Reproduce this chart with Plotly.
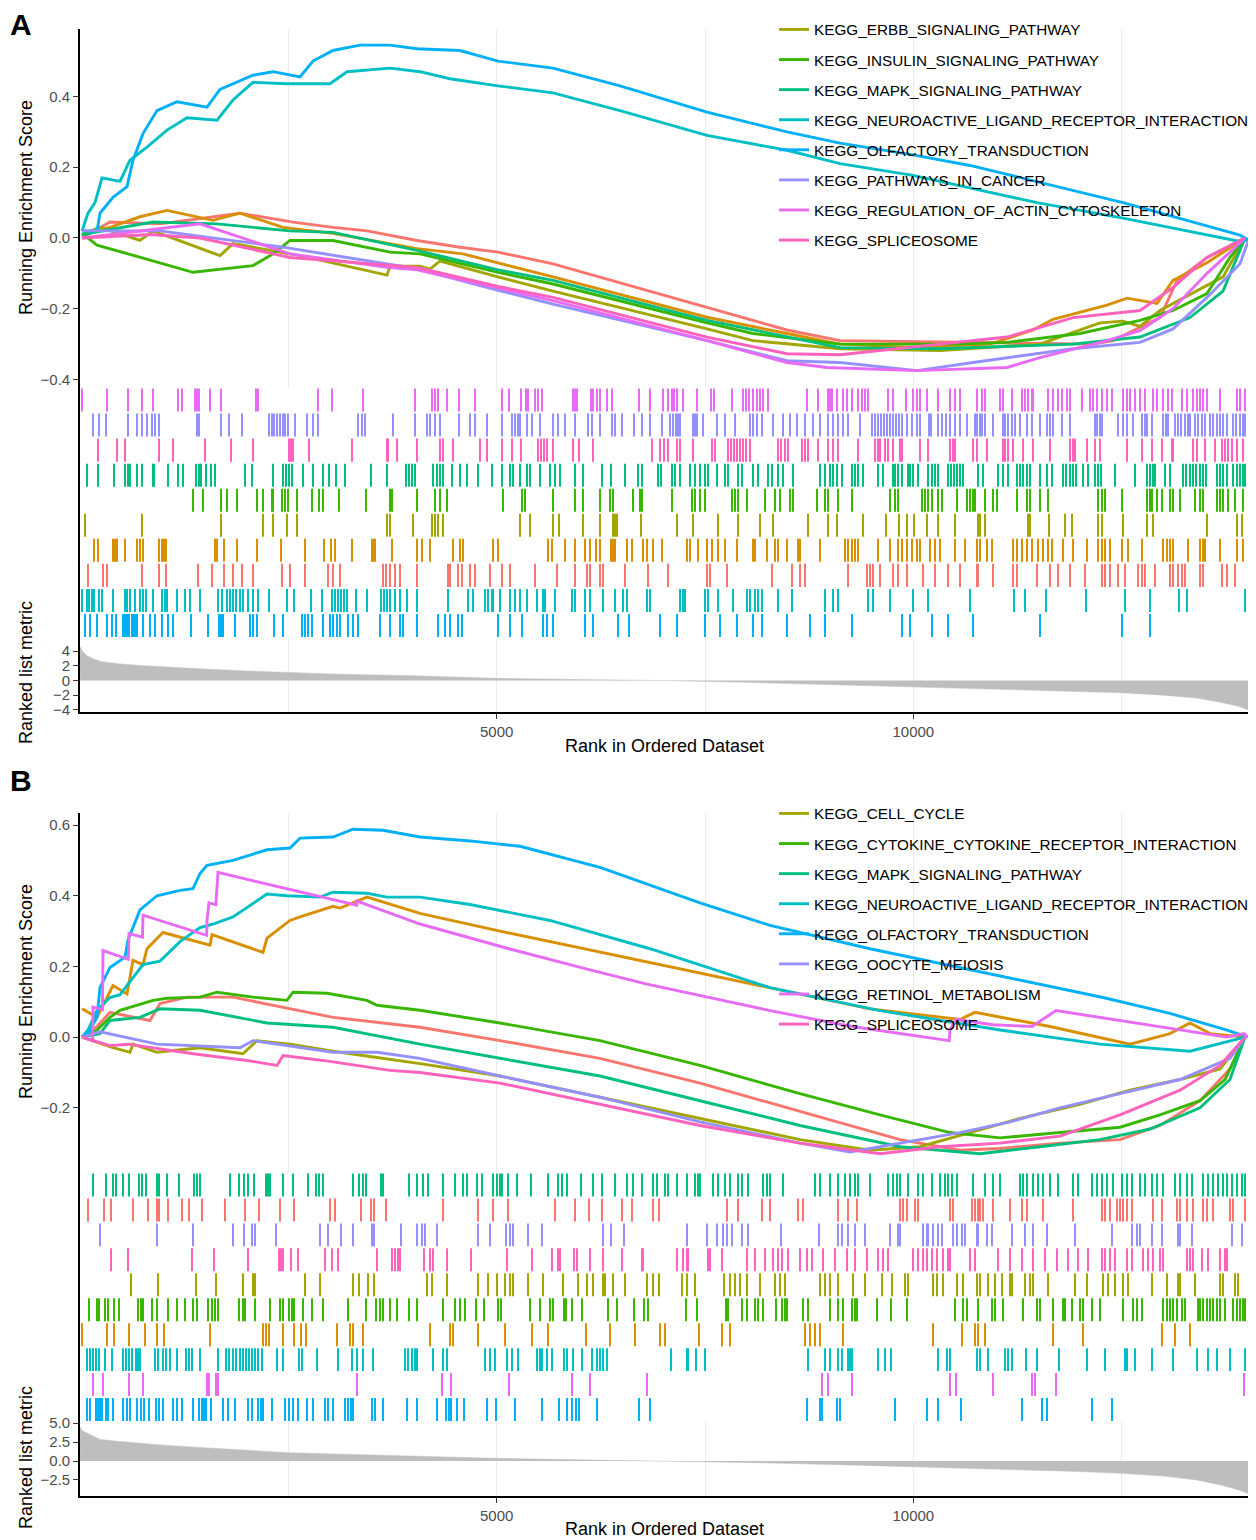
import plotly.graph_objects as go

RANK_MAX = 14016

C_SALMON = "#F8766D"; C_ORANGE = "#D89000"; C_OLIVE = "#A3A500"; C_GREEN = "#39B600"
C_MINT = "#00BF7D"; C_TEAL = "#00BFC4"; C_BLUE = "#00B0F6"; C_LAV = "#9590FF"
C_MAG = "#E76BF3"; C_PINK = "#FF62BC"

# ---------------- Panel A : running enrichment score ----------------
A_OLF_R = [24,204,240,396,564,636,756,924,1164,1524,1680,2076,2316,2640,2796,3036,3360,3720,4044,4560,5016,5676,6480,7524,8484,9120,9996,10680,12516,13920,14016]
A_OLF_ES = [0.02,0.02,0.07,0.115,0.145,0.22,0.295,0.36,0.385,0.37,0.42,0.46,0.47,0.455,0.50,0.53,0.545,0.545,0.535,0.53,0.50,0.48,0.43,0.356,0.30,0.268,0.235,0.205,0.10,0.008,-0.005]
A_NEURO_R = [24,96,180,264,480,600,804,1044,1284,1644,1836,2076,2484,3000,3204,3720,4080,4440,5016,5676,6480,7524,8484,9120,9996,11484,12516,13920,14016]
A_NEURO_ES = [0.02,0.07,0.10,0.17,0.16,0.22,0.257,0.305,0.34,0.333,0.39,0.44,0.436,0.436,0.47,0.48,0.47,0.45,0.43,0.41,0.36,0.29,0.248,0.21,0.177,0.10,0.056,-0.01,-0.005]
A_SET2_R = [24,360,720,1044,1596,1920,2436,3036,4044,4596,5676,7524,8484,9120,10044,10920,11436,11676,12324,12564,12924,13116,13524,13980]
A_SET2_ES = [0.01,0.03,0.06,0.078,0.05,0.07,0.03,0.013,-0.03,-0.045,-0.11,-0.224,-0.27,-0.30,-0.31,-0.30,-0.26,-0.23,-0.19,-0.17,-0.185,-0.12,-0.07,0.0]
A_SET1_R = [24,360,960,1920,2556,3036,3444,4044,4560,5016,5676,7524,8484,9120,10716,12156,12396,12960,13164,13524,13980]
A_SET1_ES = [0.0,0.045,0.04,0.07,0.045,0.03,0.02,-0.007,-0.026,-0.04,-0.073,-0.195,-0.26,-0.29,-0.295,-0.30,-0.29,-0.225,-0.12,-0.055,0.0]
A_ERBB_R = [24,240,720,876,1680,1836,2640,3684,3720,4080,4200,4320,5016,5676,7524,8076,9120,10320,11520,12240,12516,12720,12960,13716,13980]
A_ERBB_ES = [0.01,0.03,-0.007,0.02,-0.05,-0.016,-0.05,-0.105,-0.08,-0.08,-0.088,-0.065,-0.11,-0.15,-0.257,-0.29,-0.313,-0.318,-0.30,-0.24,-0.235,-0.25,-0.205,-0.11,0.0]
A_INS_R = [24,204,1356,2076,2316,2520,3036,3720,4080,5016,5676,7524,8076,9120,10524,11124,12000,12720,13116,13524,13800,13980]
A_INS_ES = [0.013,-0.02,-0.097,-0.078,-0.045,-0.007,-0.007,-0.04,-0.045,-0.097,-0.13,-0.24,-0.27,-0.30,-0.30,-0.295,-0.27,-0.233,-0.205,-0.157,-0.055,0.0]
A_MAPK_R = [24,876,1644,2520,3036,4044,5016,5676,7524,9120,10320,11916,12720,13320,13716,13980]
A_MAPK_ES = [0.01,0.045,0.04,0.02,0.016,-0.035,-0.09,-0.12,-0.233,-0.31,-0.313,-0.30,-0.28,-0.225,-0.15,0.0]
A_PATH_R = [24,960,2436,4044,5016,5676,7524,8484,9120,10044,10716,11916,12720,13116,13524,13920,14016]
A_PATH_ES = [0.02,0.02,-0.026,-0.087,-0.148,-0.187,-0.29,-0.347,-0.352,-0.375,-0.352,-0.313,-0.295,-0.257,-0.168,-0.073,-0.01]
A_ACTIN_R = [24,720,1440,2520,3684,4044,5016,5676,7524,8484,8964,10044,11124,11520,12324,12720,13116,13524,13800,13980]
A_ACTIN_ES = [0.0,0.02,0.04,-0.045,-0.083,-0.09,-0.143,-0.177,-0.29,-0.352,-0.366,-0.375,-0.366,-0.338,-0.29,-0.262,-0.2,-0.1,-0.04,0.0]
A_SPLICE_R = [24,840,1440,2520,4044,5016,5676,7524,8484,9120,10320,11124,11916,12720,13116,13524,13980]
A_SPLICE_ES = [0.0,0.01,0.0,-0.055,-0.083,-0.137,-0.168,-0.28,-0.327,-0.33,-0.30,-0.28,-0.225,-0.205,-0.14,-0.055,0.0]

# ---------------- Panel A : hit positions ----------------
A_ACTIN_HITS = [24,324,576,744,876,1176,1224,1380,1404,1428,1560,1692,2112,2136,2856,3024,3396,4020,4224,4260,4296,4404,4548,4740,5064,5148,5292,5352,5376,5460,5496,5544,5916,5940,5964,6132,6156,6204,6240,6324,6384,6708,6840,6996,7056,7104,7128,7164,7236,7404,7572,7608,7824,7956,7992,8028,8076,8124,8160,8196,8256,8724,8856,8976,9000,9024,9084,9156,9204,9264,9336,9384,9420,9456,9696,9756,9912,9996,10044,10080,10164,10296,10440,10500,10560,10764,10824,10860,11040,11076,11184,11304,11340,11376,11424,11436,11616,11676,11736,11784,11844,11880,12024,12120,12156,12204,12264,12324,12384,12516,12564,12600,12660,12720,12780,12876,12924,12996,13056,13104,13224,13284,13356,13404,13440,13476,13524,13680,13884,13920,13980]
A_PATH_HITS = [156,228,312,576,684,744,804,864,900,948,1404,1428,1692,1788,1944,2268,2304,2328,2364,2400,2436,2460,2496,2580,2724,2796,2856,3336,3384,3420,3756,4020,4164,4200,4260,4320,4548,4680,4740,4884,5064,5184,5220,5256,5280,5364,5424,5520,5676,5736,5820,5940,6096,6144,6240,6384,6420,6504,6648,6744,6840,6984,7080,7116,7152,7176,7200,7356,7380,7404,7476,7644,7740,7860,8040,8076,8124,8184,8316,8436,8520,8604,8700,8796,8880,8976,9036,9096,9156,9216,9360,9504,9540,9576,9612,9648,9684,9720,9756,9792,9828,9864,9924,9984,10044,10080,10188,10212,10296,10344,10392,10440,10500,10560,10644,10740,10764,10800,10824,10860,10956,11076,11100,11136,11184,11220,11280,11364,11424,11520,11604,11640,11676,11784,11880,12180,12204,12240,12264,12456,12516,12564,12636,12744,12780,12804,12864,12996,13032,13056,13140,13176,13212,13260,13296,13320,13380,13416,13464,13500,13560,13596,13644,13680,13716,13764,13836,13872,13920,13956,13980]
A_SPLICE_HITS = [216,444,540,948,1116,1500,1812,2076,2508,2532,2556,2748,3264,3684,3696,3804,4044,4320,4356,4476,4800,4884,5064,5184,5292,5496,5532,5568,5604,5676,5916,5988,6156,6864,6960,7008,7056,7164,7200,7356,7584,7620,7776,7812,7848,7884,7920,7956,7992,8040,8376,8412,8460,8496,8664,8700,8736,8856,8976,9036,9096,9336,9540,9576,9600,9660,9696,9756,9840,9864,10080,10176,10440,10476,10500,10716,10764,10884,11076,11100,11136,11196,11316,11436,11640,11880,11916,11940,12084,12180,12240,12564,12744,12864,12984,13104,13116,13356,13404,13500,13620,13704,13740,13776,13824,13884,13956]
A_MAPK_HITS = [84,216,408,540,576,600,684,744,876,888,1056,1176,1236,1392,1428,1452,1512,1572,1620,1980,2064,2316,2436,2472,2508,2544,2676,2796,2916,2988,3072,3180,3492,3684,3912,3948,3984,4020,4236,4284,4320,4356,4464,4560,4644,4776,4944,5064,5160,5196,5280,5364,5400,5520,5640,5700,5760,5940,6036,6264,6372,6540,6696,6744,6936,6972,7104,7140,7200,7320,7380,7440,7500,7536,7644,7740,7776,7896,7944,8076,8136,8256,8304,8376,8436,8556,8880,8940,9000,9036,9084,9144,9264,9300,9336,9396,9576,9636,9756,9780,9816,9864,9936,9960,9996,10056,10176,10224,10260,10296,10416,10452,10488,10524,10560,10596,10776,10836,11016,11076,11136,11244,11280,11316,11364,11400,11520,11604,11664,11796,11832,11880,11916,11952,12036,12096,12180,12216,12252,12420,12660,12804,12840,12876,12900,13020,13080,13236,13272,13320,13356,13392,13440,13476,13512,13644,13680,13716,13764,13836,13884,13920,13956,13980]
A_INS_HITS = [1356,1476,1692,1764,1884,2124,2196,2304,2316,2424,2460,2496,2604,2784,2868,2916,3108,3432,3720,3744,4044,4260,4320,4404,5076,5304,5340,5676,5940,6036,6240,6360,6396,6636,6720,6744,7104,7344,7380,7440,7500,7824,7860,7896,8004,8220,8340,8400,8520,8556,8844,8940,8976,9096,9264,9720,9780,9816,10104,10140,10176,10224,10296,10344,10524,10644,10680,10716,10740,10860,10956,11004,11244,11364,11400,11520,11616,12216,12264,12300,12504,12804,12840,12864,12924,12984,13080,13116,13200,13380,13440,13476,13644,13680,13716,13776,13860,13956]
A_ERBB_HITS = [60,744,1692,2196,2316,2484,2604,3684,3720,3996,4224,4260,4296,4356,5280,5400,5676,5748,6036,6240,6396,6420,6444,6732,7164,7356,7656,7896,8160,8316,8736,8976,9084,9396,9672,9828,9924,10008,10164,10296,10500,10776,10800,10860,11376,11400,11628,11820,11904,12216,12264,12516,12804,12876,13524,13884,13944]
A_SET2_HITS = [168,216,396,420,444,540,684,720,756,948,984,1008,1032,1620,1644,1728,1884,2124,2412,2700,2928,3012,3060,3264,3504,3528,3540,3744,4044,4104,4200,4476,4560,4596,4956,5016,5616,5664,5820,5940,6060,6120,6192,6240,6372,6396,6420,6564,6624,6756,6804,6876,6984,7284,7320,7416,7524,7584,7656,7740,7884,8076,8100,8244,8340,8376,8484,8616,8640,8880,9180,9216,9264,9300,9336,9576,9720,9816,9864,9924,9984,10044,10080,10200,10260,10320,10500,10620,10764,10800,10884,10944,11196,11244,11304,11364,11424,11496,11556,11616,11664,11796,11916,12084,12216,12264,12300,12360,12504,12576,12744,12996,13044,13080,13116,13296,13440,13476,13500,13680,13884,13956]
A_SET1_HITS = [96,276,324,744,948,1032,1416,1584,1728,1836,1944,2076,2424,2520,2700,2976,3036,3120,3636,3672,3720,3780,3840,4044,4416,4440,4536,4584,4680,4740,4920,5064,5160,5460,5724,5940,6084,6120,6240,6276,6540,6816,7056,7524,7560,7764,8304,8544,8640,8700,9216,9444,9480,9516,9600,9756,9816,9924,10116,10260,10416,10560,10764,10776,10956,11196,11244,11484,11640,11736,11880,12060,12264,12300,12360,12456,12540,12696,12744,12780,12900,13080,13116,13176,13224,13260,13440,13476,13704,13764,13860]
A_NEURO_HITS = [24,84,108,144,168,228,264,396,540,564,600,660,720,756,792,876,984,1020,1044,1164,1260,1320,1440,1656,1704,1764,1800,1836,1872,1920,1956,2016,2076,2136,2268,2484,2568,2772,2904,3024,3060,3096,3132,3168,3204,3312,3444,3612,3648,3684,3720,3780,3840,3924,4044,4416,4656,4716,4860,4896,4944,4956,5040,5160,5220,5280,5364,5484,5556,5580,5700,5904,5940,6060,6120,6276,6420,6516,6564,6804,6840,7200,7236,7260,7500,7536,7656,7836,8004,8040,8100,8136,8184,8376,8544,8940,9036,9096,9456,9516,9720,9996,10176,10680,11208,11340,11592,12072,12540,12840,13188,13284,13980]
A_OLF_HITS = [60,120,204,324,384,432,516,540,564,588,624,636,660,684,756,840,900,984,1056,1116,1332,1536,1668,1692,1716,1860,2040,2076,2124,2328,2436,2664,2700,2736,2784,2916,3000,3036,3084,3120,3216,3276,3336,3600,3720,3840,3876,4044,4296,4380,4440,4536,4584,5016,5160,5304,5556,5604,5676,6060,6156,6456,6588,6960,7164,7500,7680,7884,8076,8184,8484,8760,8940,9264,9864,9960,10224,10416,10716,11520,12504,12840]

# ---------------- Panel B : running enrichment score ----------------
B_OLF_R = [24,96,204,240,360,540,576,720,924,1200,1356,1440,1524,1836,2244,2520,2640,3036,3276,3636,4080,4680,5280,6240,7440,8280,9480,11280,12276,13080,13764,14016]
B_OLF_ES = [0.0,0.01,0.056,0.14,0.197,0.226,0.275,0.36,0.40,0.415,0.42,0.463,0.486,0.50,0.53,0.535,0.563,0.566,0.588,0.585,0.566,0.555,0.54,0.48,0.38,0.316,0.25,0.16,0.112,0.067,0.02,0.0]
B_NEURO_R = [24,96,204,360,480,636,756,960,1200,1440,1596,1836,2076,2244,2484,2880,3036,3444,3684,4080,4680,5640,6840,8280,9600,11040,12240,13320,13980]
B_NEURO_ES = [0.0,0.02,0.076,0.112,0.12,0.167,0.205,0.215,0.27,0.31,0.32,0.34,0.377,0.405,0.40,0.396,0.41,0.407,0.396,0.396,0.375,0.33,0.25,0.14,0.075,0.02,-0.02,-0.04,0.0]
B_SET2_R = [24,204,396,564,636,756,804,996,1560,1584,2196,2244,2520,2640,3036,3120,3444,4080,5040,6240,7440,8280,9480,10560,10740,11640,12600,13080,13320,13560,13980]
B_SET2_ES = [0.08,0.056,0.146,0.122,0.217,0.205,0.25,0.296,0.26,0.29,0.24,0.28,0.33,0.34,0.37,0.365,0.396,0.35,0.30,0.24,0.18,0.14,0.08,0.05,0.07,0.03,-0.02,0.01,0.04,0.01,0.0]
B_RET_R = [24,150,156,270,276,580,588,750,756,1520,1524,1548,1630,1656,3320,3324,4080,5148,6120,6804,8280,9264,10430,10440,10512,10956,11424,11712,13760,13968,14016]
B_RET_ES = [0.0,-0.01,0.085,0.078,0.245,0.22,0.293,0.283,0.345,0.288,0.33,0.38,0.375,0.466,0.373,0.385,0.32,0.25,0.19,0.15,0.075,0.03,-0.01,0.02,0.05,0.035,0.03,0.075,0.0,0.01,0.0]
B_CYTO_R = [24,204,360,480,876,1044,1440,1644,2076,2484,2556,2964,3444,3564,4080,5040,6240,7440,8640,9600,10440,11040,11760,12480,12960,13440,13740,13980]
B_CYTO_ES = [0.0,0.02,0.056,0.076,0.104,0.11,0.113,0.127,0.113,0.104,0.127,0.124,0.104,0.09,0.076,0.04,-0.01,-0.08,-0.16,-0.22,-0.27,-0.285,-0.27,-0.255,-0.22,-0.18,-0.12,0.0]
B_SET1_R = [24,204,360,840,960,1284,1836,3036,4080,5040,6240,7440,8640,9840,10560,11040,11760,12480,12960,13440,13800,13980]
B_SET1_ES = [0.0,0.03,0.07,0.047,0.095,0.113,0.113,0.056,0.028,-0.01,-0.06,-0.13,-0.21,-0.29,-0.32,-0.315,-0.30,-0.29,-0.25,-0.18,-0.09,0.0]
B_MAPK_R = [24,240,360,720,960,1440,2244,3036,4080,5040,6240,7440,8640,9840,10800,11520,12240,12840,13440,13800,13980]
B_MAPK_ES = [0.0,0.01,0.047,0.056,0.08,0.076,0.04,0.028,-0.02,-0.06,-0.11,-0.18,-0.25,-0.31,-0.33,-0.31,-0.29,-0.26,-0.2,-0.12,0.0]
B_CELL_R = [24,396,600,636,924,1440,1956,2124,2520,3036,4080,5040,6240,7440,8640,9480,10080,10680,11280,12000,12600,13200,13680,13980]
B_CELL_ES = [0.0,-0.03,-0.043,-0.02,-0.043,-0.03,-0.047,-0.01,-0.02,-0.04,-0.075,-0.11,-0.17,-0.23,-0.29,-0.32,-0.31,-0.27,-0.23,-0.19,-0.15,-0.12,-0.09,0.0]
B_OOC_R = [24,240,924,1356,1920,2076,3036,3564,4080,5040,6240,7440,8640,9240,9840,10560,11160,11760,12480,13200,13800,13980]
B_OOC_ES = [0.0,0.015,-0.02,-0.024,-0.03,-0.01,-0.043,-0.043,-0.06,-0.11,-0.17,-0.24,-0.30,-0.325,-0.30,-0.27,-0.24,-0.2,-0.16,-0.12,-0.06,0.0]
B_SPLICE_R = [24,360,576,1356,2004,2364,2436,2916,3720,4080,5040,6240,7440,8640,9600,10320,11040,11760,12480,13200,13680,13980]
B_SPLICE_ES = [0.0,-0.024,-0.02,-0.047,-0.066,-0.08,-0.052,-0.066,-0.094,-0.1,-0.13,-0.19,-0.25,-0.30,-0.33,-0.31,-0.30,-0.28,-0.22,-0.15,-0.08,0.0]

# ---------------- Panel B : hit positions ----------------
B_MAPK_HITS = [156,312,396,432,516,588,708,744,792,924,948,1044,1188,1368,1404,1440,1800,1908,1968,2016,2088,2232,2256,2280,2436,2556,2736,2832,2868,2916,3276,3348,3396,3432,3612,3636,3948,4044,4116,4176,4356,4500,4596,4644,4764,4824,4956,5004,5040,5064,5136,5244,5412,5616,5736,5784,5844,6012,6156,6264,6420,6564,6636,6744,6876,6924,7020,7056,7164,7284,7380,7416,7440,7596,7656,7740,7800,7896,7944,8016,8196,8244,8280,8436,8820,8880,9000,9096,9180,9240,9300,9336,9480,9696,9756,9804,9840,9936,10056,10116,10224,10320,10380,10416,10464,10524,10716,10860,10956,11040,11280,11316,11364,11436,11496,11556,11640,11736,11916,11976,12144,12204,12264,12324,12396,12504,12564,12624,12720,12780,12864,12924,12996,13140,13200,13284,13344,13476,13536,13596,13656,13716,13764,13824,13884,13944,13980]
B_SET1_HITS = [96,288,372,636,816,924,948,1056,1224,1308,1464,1740,1980,2148,2400,2568,3000,3060,3372,3492,3528,3672,4356,4776,4956,5136,5700,5940,6108,6264,6504,6624,6876,6948,7764,7896,8184,8280,8616,8676,9096,9216,9324,9840,9876,9924,10020,10056,10440,10476,10704,10740,10776,10800,10836,10956,11160,11304,11364,11556,11916,12264,12300,12360,12444,12480,12516,12564,12624,12876,12984,13164,13200,13284,13356,13476,13524,13596,13800,13836,13980]
B_OOC_HITS = [240,924,1356,1836,1968,2064,2100,2352,2880,2976,3132,3276,3504,3528,3852,4044,4104,4140,4284,4776,4920,5112,5160,5196,5376,5544,6276,6372,6528,7284,7524,7644,7716,7764,7824,7944,8016,8412,8868,9096,9144,9216,9300,9420,9720,9816,9840,10116,10164,10176,10236,10296,10344,10476,10524,10584,10620,10764,10776,10884,10944,11184,11340,11436,11604,11940,12384,12624,12684,12720,12864,12984,13176,13200,13344,13824,13944]
B_SPLICE_HITS = [372,576,1344,1608,2016,2388,2412,2436,2532,2616,2940,3024,3096,3564,3744,3780,3816,3840,4128,4200,4236,4404,4692,5124,5424,5664,5736,5760,5928,5964,6120,6276,6504,6744,6756,7164,7236,7284,7296,7536,7560,7704,8004,8100,8220,8316,8376,8424,8496,8640,8724,8784,8916,9060,9204,9300,9444,9576,9636,9696,9996,10056,10116,10164,10224,10284,10356,10416,10440,10680,10740,11016,11160,11304,11436,11580,11724,11856,11976,12096,12264,12300,12360,12420,12564,12624,12756,12816,12876,12960,12996,13284,13320,13356,13464,13536,13680,13740,13764]
B_CELL_HITS = [612,936,1392,1632,1956,2076,2100,2700,2880,3276,3348,3456,3528,4164,4224,4404,4776,4896,5004,5100,5160,5196,5376,5556,5796,5976,6084,6156,6276,6300,6396,6540,6804,6876,6948,7224,7284,7380,7728,7800,7860,7920,8004,8160,8340,8400,8460,8880,8940,9000,9096,9276,9420,9624,9744,9900,9936,10236,10284,10356,10524,10596,10764,10800,10896,10980,11064,11160,11184,11340,11400,11436,11616,11940,12084,12276,12336,12420,12516,12576,12864,13044,13176,13200,13380,13680,13716,13860,13896]
B_CYTO_HITS = [108,204,228,300,336,408,468,696,732,756,864,924,1056,1164,1260,1356,1404,1536,1584,1620,1656,1908,1956,1980,2100,2280,2400,2436,2508,2544,2568,2676,2784,2916,3216,3432,3552,3600,3636,3720,3804,3948,4044,4356,4500,4560,4620,4752,4848,5016,5052,5400,5520,5640,5676,5808,5832,5904,6024,6336,6444,6648,6768,6816,7272,7404,7752,7776,7944,8004,8100,8136,8196,8352,8424,8460,8484,8676,8736,9000,9096,9156,9264,9300,9324,9564,9732,9924,10500,10596,10644,10776,10944,10980,11076,11316,11484,11520,11676,11796,11820,11904,12000,12036,12144,12240,12516,12636,12684,12744,12996,13044,13080,13116,13164,13224,13260,13416,13440,13476,13524,13560,13596,13644,13680,13740,13836,13884,13920,13956,13980]
B_SET2_HITS = [24,324,408,588,780,924,1008,1560,2196,2232,2268,2436,2568,2652,2712,3084,3240,3276,3396,4200,4440,4476,4776,5100,5424,5616,6072,6360,6660,6960,7020,7428,7704,7800,8700,8760,8820,8880,9156,10236,10584,10740,10776,10860,11676,12036,12984,13140,13320]
B_NEURO_HITS = [84,120,156,192,228,300,384,516,552,588,624,672,696,720,900,936,996,1032,1080,1164,1272,1308,1344,1440,1656,1752,1788,1836,1872,1920,1956,1992,2028,2064,2100,2136,2184,2364,2436,2628,2664,2844,3096,3264,3324,3396,3516,3900,3936,3984,4020,4044,4236,4356,4404,4860,4920,4980,5124,5184,5256,5484,5520,5544,5604,5664,5808,5844,5916,6024,6144,6204,6240,6276,6324,7092,7284,7296,7392,7500,8736,8940,9000,9096,9144,9216,9240,9264,9576,9660,9732,10296,10404,10440,10764,10800,10896,11100,11136,11184,11352,11484,11748,12084,12300,12540,12564,12660,12864,13116,13404,13536,13644,13800,13980]
B_RET_HITS = [156,276,588,756,1524,1548,1632,1656,3324,4344,4452,5148,5904,6120,6804,8904,8976,9264,10440,10512,10956,11424,11460,11712,13968]
B_OLF_HITS = [84,120,192,216,240,264,312,336,396,516,564,600,684,732,768,828,912,948,996,1116,1164,1224,1356,1428,1464,1488,1512,1572,1716,1776,1860,2016,2064,2136,2172,2196,2304,2460,2508,2556,2616,2724,2796,2940,2976,3036,3180,3216,3252,3276,3504,3540,3636,3924,4044,4284,4392,4428,4452,4524,4608,4884,4992,5220,5544,5748,5844,5904,5952,5988,6204,6708,6840,8724,8880,8904,9084,9120,9780,10164,10296,10572,11304,11544,11604,12144,12384]

# ---------------- ranked list metric ----------------
A_MET_R = [1,30,80,150,250,450,720,1000,1440,2000,2500,3000,4000,5000,6000,7000,8000,9000,10000,11000,12000,12500,13000,13400,13700,13900,14016]
A_MET_V = [4.6,4.0,3.4,3.0,2.6,2.3,2.05,1.85,1.6,1.3,1.05,0.9,0.65,0.3,0.12,0.0,-0.25,-0.55,-0.88,-1.15,-1.45,-1.67,-2.0,-2.4,-3.0,-3.5,-4.0]
B_MET_R = [1,30,120,240,450,720,1000,1440,2000,2500,3500,5000,6000,7000,8000,9000,10000,11000,12000,12500,13000,13400,13700,13900,14016]
B_MET_V = [4.5,4.0,3.5,2.85,2.6,2.33,2.1,1.8,1.45,1.1,0.8,0.35,0.15,0.0,-0.2,-0.45,-0.75,-1.05,-1.4,-1.63,-2.0,-2.5,-3.2,-3.8,-4.3]

# (name, colour, ranks, es, in legend)
A_CURVES = [
    ("KEGG_GENE_SET_A1", C_SALMON, A_SET1_R, A_SET1_ES, False),
    ("KEGG_GENE_SET_A2", C_ORANGE, A_SET2_R, A_SET2_ES, False),
    ("KEGG_ERBB_SIGNALING_PATHWAY", C_OLIVE, A_ERBB_R, A_ERBB_ES, True),
    ("KEGG_INSULIN_SIGNALING_PATHWAY", C_GREEN, A_INS_R, A_INS_ES, True),
    ("KEGG_MAPK_SIGNALING_PATHWAY", C_MINT, A_MAPK_R, A_MAPK_ES, True),
    ("KEGG_NEUROACTIVE_LIGAND_RECEPTOR_INTERACTION", C_TEAL, A_NEURO_R, A_NEURO_ES, True),
    ("KEGG_OLFACTORY_TRANSDUCTION", C_BLUE, A_OLF_R, A_OLF_ES, True),
    ("KEGG_PATHWAYS_IN_CANCER", C_LAV, A_PATH_R, A_PATH_ES, True),
    ("KEGG_REGULATION_OF_ACTIN_CYTOSKELETON", C_MAG, A_ACTIN_R, A_ACTIN_ES, True),
    ("KEGG_SPLICEOSOME", C_PINK, A_SPLICE_R, A_SPLICE_ES, True),
]
A_RUG = [(A_ACTIN_HITS, C_MAG), (A_PATH_HITS, C_LAV), (A_SPLICE_HITS, C_PINK), (A_MAPK_HITS, C_MINT),
         (A_INS_HITS, C_GREEN), (A_ERBB_HITS, C_OLIVE), (A_SET2_HITS, C_ORANGE), (A_SET1_HITS, C_SALMON),
         (A_NEURO_HITS, C_TEAL), (A_OLF_HITS, C_BLUE)]
B_CURVES = [
    ("KEGG_GENE_SET_B1", C_SALMON, B_SET1_R, B_SET1_ES, False),
    ("KEGG_GENE_SET_B2", C_ORANGE, B_SET2_R, B_SET2_ES, False),
    ("KEGG_CELL_CYCLE", C_OLIVE, B_CELL_R, B_CELL_ES, True),
    ("KEGG_CYTOKINE_CYTOKINE_RECEPTOR_INTERACTION", C_GREEN, B_CYTO_R, B_CYTO_ES, True),
    ("KEGG_MAPK_SIGNALING_PATHWAY", C_MINT, B_MAPK_R, B_MAPK_ES, True),
    ("KEGG_NEUROACTIVE_LIGAND_RECEPTOR_INTERACTION", C_TEAL, B_NEURO_R, B_NEURO_ES, True),
    ("KEGG_OLFACTORY_TRANSDUCTION", C_BLUE, B_OLF_R, B_OLF_ES, True),
    ("KEGG_OOCYTE_MEIOSIS", C_LAV, B_OOC_R, B_OOC_ES, True),
    ("KEGG_RETINOL_METABOLISM", C_MAG, B_RET_R, B_RET_ES, True),
    ("KEGG_SPLICEOSOME", C_PINK, B_SPLICE_R, B_SPLICE_ES, True),
]
B_RUG = [(B_MAPK_HITS, C_MINT), (B_SET1_HITS, C_SALMON), (B_OOC_HITS, C_LAV), (B_SPLICE_HITS, C_PINK),
         (B_CELL_HITS, C_OLIVE), (B_CYTO_HITS, C_GREEN), (B_SET2_HITS, C_ORANGE), (B_NEURO_HITS, C_TEAL),
         (B_RET_HITS, C_MAG), (B_OLF_HITS, C_BLUE)]

# ---------------- layout helpers ----------------
# the page body has an 8px margin, so the figure is drawn 8px in from the top-left
OFF = 8
W, H = 1256 - OFF, 1540 - OFF
FONT = "Liberation Sans, Arial, Helvetica, sans-serif"
def fy(py): return 1 - (py - OFF) / H
def fx(px): return (px - OFF) / W
XDOM = [fx(80), fx(1248)]

fig = go.Figure()

def add_panel(curves, rug, met_r, met_v, ax0, legend_name):
    xa_es, xa_rug, xa_met = "x%d" % ax0, "x%d" % (ax0 + 1), "x%d" % (ax0 + 2)
    ya_es, ya_rug, ya_met = "y%d" % ax0, "y%d" % (ax0 + 1), "y%d" % (ax0 + 2)
    for i, (name, col, r, es, leg) in enumerate(curves):
        fig.add_trace(go.Scatter(x=r, y=es, mode="lines", name=name,
                                 line=dict(color=col, width=2.9),
                                 showlegend=leg, legend=legend_name, legendgroup=legend_name + str(i),
                                 xaxis=xa_es, yaxis=ya_es, hoverinfo="skip"))
    n = len(rug)
    for row, (hits, col) in enumerate(rug):
        y0 = n - 1 - row + 0.04
        y1 = n - row - 0.04
        xs, ys = [], []
        for h in hits:
            xs += [h, h, None]
            ys += [y0, y1, None]
        fig.add_trace(go.Scatter(x=xs, y=ys, mode="lines", line=dict(color=col, width=2),
                                 showlegend=False, xaxis=xa_rug, yaxis=ya_rug, hoverinfo="skip"))
    fig.add_trace(go.Scatter(x=met_r, y=met_v, mode="lines", fill="tozeroy",
                             line=dict(color="#BEBEBE", width=0.5), fillcolor="#BEBEBE",
                             showlegend=False, xaxis=xa_met, yaxis=ya_met, hoverinfo="skip"))

add_panel(A_CURVES, A_RUG, A_MET_R, A_MET_V, 1, "legend")
add_panel(B_CURVES, B_RUG, B_MET_R, B_MET_V, 4, "legend2")

GRID = "#EBEBEB"
TICKF = dict(size=15, color="#4D4D4D", family=FONT)
def es_x(anchor):
    return dict(domain=XDOM, range=[0, RANK_MAX], anchor=anchor, showticklabels=False, ticks="",
                tickvals=[2500, 5000, 7500, 10000, 12500], showgrid=True, gridcolor=GRID, gridwidth=1,
                zeroline=False, showline=False, automargin=False)
def rug_x(anchor):
    return dict(domain=XDOM, range=[0, RANK_MAX], anchor=anchor, showticklabels=False, ticks="",
                showgrid=False, zeroline=False, showline=False, automargin=False)
def met_x(anchor):
    return dict(domain=XDOM, range=[0, RANK_MAX], anchor=anchor, tickvals=[5000, 10000],
                ticktext=["5000", "10000"], ticks="outside", ticklen=5, tickcolor="#333333",
                tickfont=TICKF, showgrid=True, gridcolor=GRID, gridwidth=1, zeroline=False,
                showline=True, linecolor="black", linewidth=1.6, automargin=False,
                minor=dict(tickvals=[2500, 7500, 12500], showgrid=True, gridcolor=GRID, ticks=""))
def yax(anchor, dom, rng, tv=None, tt=None):
    d = dict(domain=[fy(dom[1]), fy(dom[0])], range=rng, anchor=anchor, showgrid=False, zeroline=False,
             showline=True, linecolor="black", linewidth=1.6, automargin=False)
    if tv is None:
        d.update(showticklabels=False, ticks="")
    else:
        d.update(tickvals=tv, ticktext=tt, ticks="outside", ticklen=5, tickcolor="#333333", tickfont=TICKF)
    return d

LEG = dict(xanchor="left", yanchor="top", bgcolor="rgba(0,0,0,0)", borderwidth=0,
           font=dict(size=15.3, family=FONT, color="black"), tracegroupgap=7.2, itemwidth=30,
           traceorder="grouped")
fig.update_layout(
    template="none",
    width=W, height=H, margin=dict(l=0, r=0, t=0, b=0, pad=0), autosize=False,
    plot_bgcolor="white", paper_bgcolor="white", font=dict(family=FONT, color="black"),
    xaxis=es_x("y"), xaxis2=rug_x("y2"), xaxis3=met_x("y3"),
    xaxis4=es_x("y4"), xaxis5=rug_x("y5"), xaxis6=met_x("y6"),
    yaxis=yax("x", (29, 387.5), [-0.4226, 0.5907], [-0.4, -0.2, 0, 0.2, 0.4], ["−0.4", "−0.2", "0.0", "0.2", "0.4"]),
    yaxis2=yax("x2", (387.5, 638), [0, 10]),
    yaxis3=yax("x3", (638, 712), [-4.3, 5.8], [-4, -2, 0, 2, 4], ["−4", "−2", "0", "2", "4"]),
    yaxis4=yax("x4", (813, 1172.5), [-0.383, 0.634], [-0.2, 0, 0.2, 0.4, 0.6], ["−0.2", "0.0", "0.2", "0.4", "0.6"]),
    yaxis5=yax("x5", (1172.5, 1422), [0, 10]),
    yaxis6=yax("x6", (1422, 1496), [-4.63, 5.16], [-2.5, 0, 2.5, 5], ["−2.5", "0.0", "2.5", "5.0"]),
    legend=dict(x=fx(774), y=fy(13), **LEG),
    legend2=dict(x=fx(774), y=fy(797), **LEG),
)

def ann(text, px, py, size, angle=0, bold=False, color="black"):
    fig.add_annotation(text=("<b>%s</b>" % text) if bold else text, x=fx(px), y=fy(py),
                       xref="paper", yref="paper", showarrow=False, textangle=angle,
                       font=dict(size=size, family=FONT, color=color), xanchor="center", yanchor="middle")

ann("A", 21, 25, 30, bold=True)
ann("B", 21, 780, 30, bold=True)
ann("Running Enrichment Score", 26, 208, 18, angle=-90)
ann("Ranked list metric", 26, 673, 18, angle=-90)
ann("Rank in Ordered Dataset", 664, 746, 18)
ann("Running Enrichment Score", 26, 992, 18, angle=-90)
ann("Ranked list metric", 26, 1458, 18, angle=-90)
ann("Rank in Ordered Dataset", 664, 1529, 18)

fig.write_html("out.html")
